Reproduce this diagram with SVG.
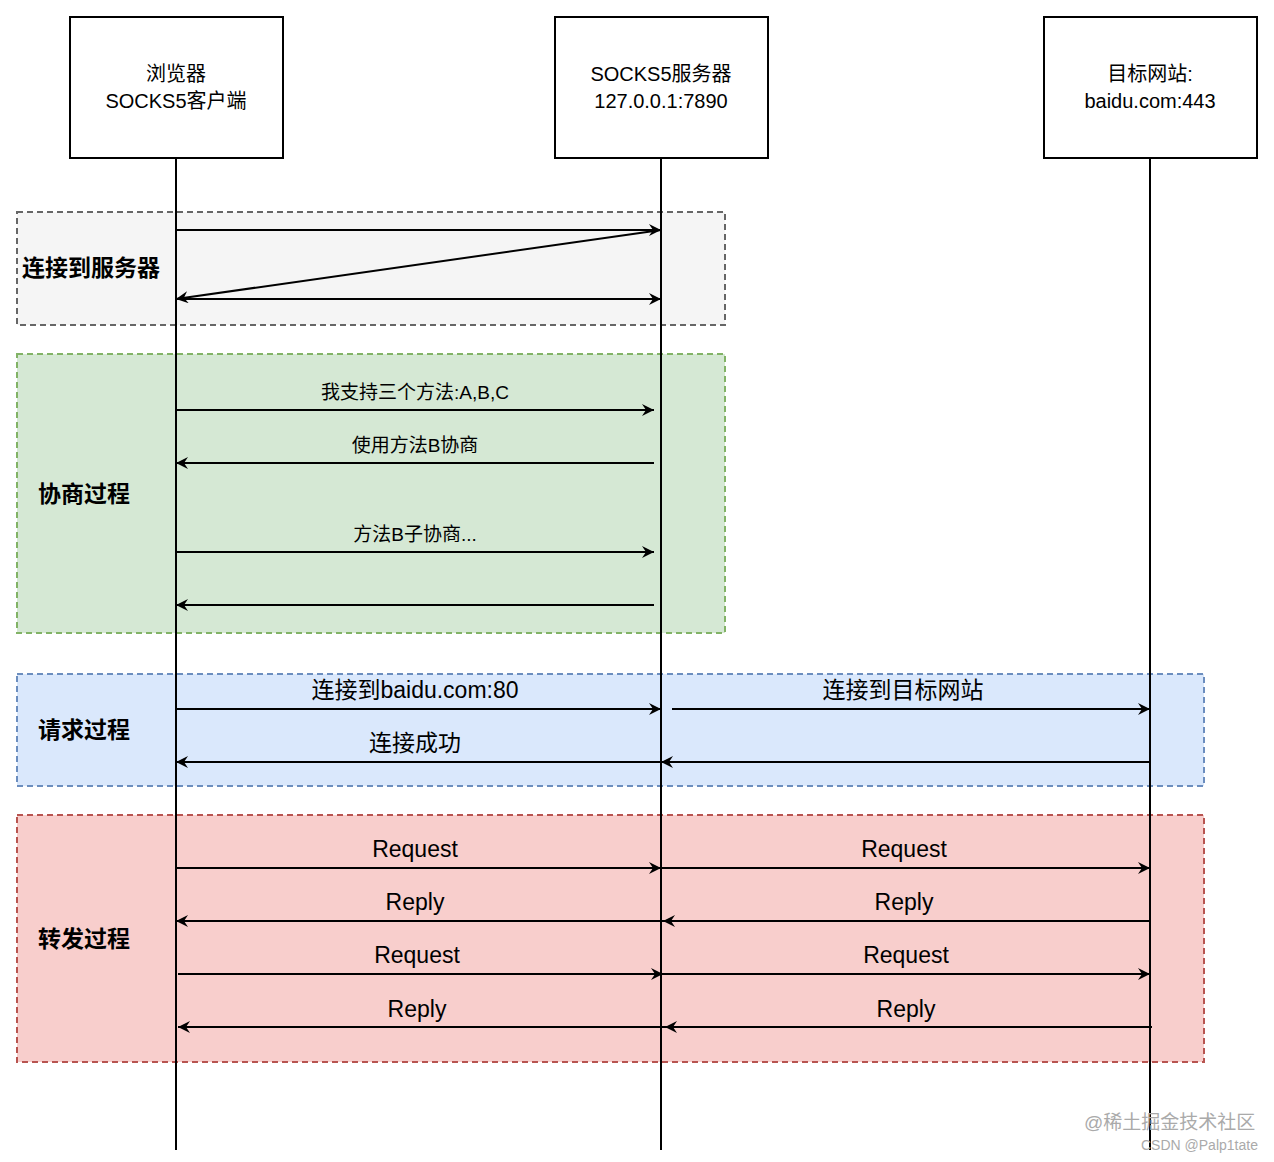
<svg xmlns="http://www.w3.org/2000/svg" width="1274" height="1162" viewBox="0 0 1274 1162">
<style>
text{font-family:"Liberation Sans","Noto Sans CJK SC",sans-serif;fill:#000}
.node rect{fill:#fff;stroke:#000;stroke-width:2}
.nt{font-size:20px;text-anchor:middle}
.fr{stroke-dasharray:6 4;stroke-width:2}
.ft{font-size:23px;font-weight:bold}
.l{stroke:#000;stroke-width:2;fill:none}
.a{stroke:#000;stroke-width:2;fill:none;marker-end:url(#ah)}
.s{font-size:19px;text-anchor:middle}
.b{font-size:23px;text-anchor:middle}
</style>
<defs>
<marker id="ah" markerWidth="14" markerHeight="12" refX="12" refY="6" orient="auto" markerUnits="userSpaceOnUse">
<path d="M0,0 L12,6 L0,12 L4,6 Z" fill="#000"/>
</marker>
</defs>
<g id="frames">
<rect class="fr" x="17" y="212" width="708" height="113" fill="#f5f5f5" stroke="#666"/>
<text class="ft" x="22" y="276">连接到服务器</text>
<rect class="fr" x="17" y="354" width="708" height="279" fill="#d5e8d4" stroke="#82b366"/>
<text class="ft" x="38" y="502">协商过程</text>
<rect class="fr" x="17" y="674" width="1187" height="112" fill="#dae8fc" stroke="#6c8ebf"/>
<text class="ft" x="38" y="738">请求过程</text>
<rect class="fr" x="17" y="815" width="1187" height="247" fill="#f8cecc" stroke="#b85450"/>
<text class="ft" x="38" y="947">转发过程</text>
</g>
<g id="client" class="node"><rect x="70" y="17" width="213" height="141"/><text class="nt" x="176" y="81">浏览器</text><text class="nt" x="176" y="108">SOCKS5客户端</text></g>
<g id="server" class="node"><rect x="555" y="17" width="213" height="141"/><text class="nt" x="661" y="81">SOCKS5服务器</text><text class="nt" x="661" y="108">127.0.0.1:7890</text></g>
<g id="target" class="node"><rect x="1044" y="17" width="213" height="141"/><text class="nt" x="1150" y="81">目标网站:</text><text class="nt" x="1150" y="108">baidu.com:443</text></g>
<g id="connectors">
<line class="l" x1="176" y1="158" x2="176" y2="1150"/>
<line class="l" x1="661" y1="158" x2="661" y2="1150"/>
<line class="l" x1="1150" y1="158" x2="1150" y2="1150"/>
<line class="a" x1="176" y1="230" x2="661" y2="230"/>
<line class="a" x1="661" y1="230" x2="176" y2="299"/>
<line class="a" x1="176" y1="299" x2="661" y2="299"/>
<line class="a" x1="176" y1="410" x2="654" y2="410"/>
<line class="a" x1="654" y1="463" x2="176" y2="463"/>
<line class="a" x1="176" y1="552" x2="654" y2="552"/>
<line class="a" x1="654" y1="605" x2="176" y2="605"/>
<line class="a" x1="176" y1="709" x2="661" y2="709"/>
<line class="a" x1="672" y1="709" x2="1150" y2="709"/>
<line class="a" x1="1150" y1="762" x2="661" y2="762"/>
<line class="a" x1="661" y1="762" x2="176" y2="762"/>
<line class="a" x1="176" y1="868" x2="661" y2="868"/>
<line class="a" x1="661" y1="868" x2="1150" y2="868"/>
<line class="a" x1="1150" y1="921" x2="663" y2="921"/>
<line class="a" x1="663" y1="921" x2="176" y2="921"/>
<line class="a" x1="178" y1="974" x2="663" y2="974"/>
<line class="a" x1="663" y1="974" x2="1150" y2="974"/>
<line class="a" x1="1152" y1="1027" x2="665" y2="1027"/>
<line class="a" x1="665" y1="1027" x2="178" y2="1027"/>
</g>
<g id="labels">
<text class="s" x="415" y="399">我支持三个方法:A,B,C</text>
<text class="s" x="415" y="452">使用方法B协商</text>
<text class="s" x="415" y="541">方法B子协商...</text>
<text class="b" x="415" y="698">连接到baidu.com:80</text>
<text class="b" x="903" y="698">连接到目标网站</text>
<text class="b" x="415" y="751">连接成功</text>
<text class="b" x="415" y="857">Request</text>
<text class="b" x="904" y="857">Request</text>
<text class="b" x="415" y="910">Reply</text>
<text class="b" x="904" y="910">Reply</text>
<text class="b" x="417" y="963">Request</text>
<text class="b" x="906" y="963">Request</text>
<text class="b" x="417" y="1017">Reply</text>
<text class="b" x="906" y="1017">Reply</text>
<text x="1084" y="1129" style="font-size:19px;fill:#aaa">@稀土掘金技术社区</text>
<text x="1141" y="1150" style="font-size:14px;fill:#aaa">CSDN @Palp1tate</text>
</g>
</svg>
